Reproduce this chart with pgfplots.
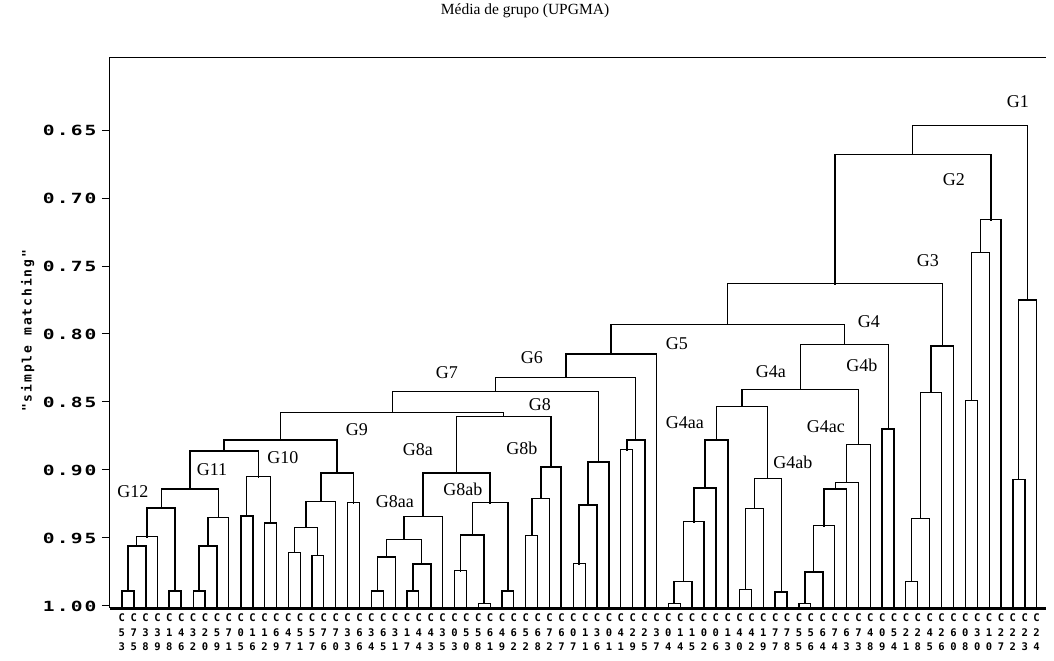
\documentclass[border=0pt]{standalone}
\usepackage{fontspec}
\setmainfont{Liberation Serif}
\newfontfamily\monob[BoldFont={* Bold}]{DejaVu Sans Mono}
\newfontfamily\monolab[BoldFont={* Bold},LetterSpace=15]{DejaVu Sans Mono}
\newfontfamily\monobsp[BoldFont={* Bold},LetterSpace=15,FakeStretch=1.4]{DejaVu Sans Mono}
\usepackage{pgfplots}
\pgfplotsset{compat=1.18}
\newcommand\M[5]{\addplot[dend] coordinates {(#1,#2) (#1,#5) (#3,#5) (#3,#4)};}
\newcommand\MT[5]{\addplot[dend,line width=1.9pt] coordinates {(#1,#2) (#1,#5) (#3,#5) (#3,#4)};}
\newcommand\G[3]{\node[font=\fontsize{18}{18}\selectfont,inner sep=0pt] at (axis cs:#1,#2) {#3};}
\begin{document}
\begin{tikzpicture}
\begin{axis}[name=ax,
  scale only axis, width=936pt, height=551pt,
  xmin=0, xmax=78.79, ymin=0.5963, ymax=1.0015, y dir=reverse,
  clip=false, axis line style={draw=none},
  dend/.style={black, line width=1.1pt, line cap=rect, line join=miter, mark=none},
  xtick={1,...,78}, xtick style={draw=none},
  xticklabels={{C\\5\\3},{C\\7\\5},{C\\3\\8},{C\\3\\9},{C\\1\\8},{C\\4\\6},{C\\3\\2},{C\\2\\0},{C\\5\\9},{C\\7\\1},
    {C\\0\\5},{C\\1\\6},{C\\1\\2},{C\\6\\9},{C\\4\\7},{C\\5\\1},{C\\5\\7},{C\\7\\6},{C\\7\\0},{C\\3\\3},
    {C\\6\\6},{C\\3\\4},{C\\6\\5},{C\\3\\1},{C\\1\\7},{C\\4\\4},{C\\4\\3},{C\\3\\5},{C\\0\\3},{C\\5\\0},
    {C\\5\\8},{C\\6\\1},{C\\4\\9},{C\\6\\2},{C\\5\\2},{C\\6\\8},{C\\7\\2},{C\\6\\7},{C\\0\\7},{C\\1\\1},
    {C\\3\\6},{C\\0\\1},{C\\4\\1},{C\\2\\9},{C\\2\\5},{C\\3\\7},{C\\0\\4},{C\\1\\4},{C\\1\\5},{C\\0\\2},
    {C\\0\\6},{C\\1\\3},{C\\4\\0},{C\\4\\2},{C\\1\\9},{C\\7\\7},{C\\7\\8},{C\\5\\5},{C\\5\\6},{C\\6\\4},
    {C\\7\\4},{C\\6\\3},{C\\7\\3},{C\\4\\8},{C\\0\\9},{C\\5\\4},{C\\2\\1},{C\\2\\8},{C\\4\\5},{C\\2\\6},
    {C\\6\\0},{C\\0\\8},{C\\3\\0},{C\\1\\0},{C\\2\\7},{C\\2\\2},{C\\2\\3},{C\\2\\4}},
  xticklabel style={font=\monob\bfseries\fontsize{10.5}{14.5}\selectfont, align=center, anchor=north, yshift=2pt, inner sep=0pt},
  ytick={0.65,0.70,0.75,0.80,0.85,0.90,0.95,1.00},
  yticklabels={0.65,0.70,0.75,0.80,0.85,0.90,0.95,1.00},
  yticklabel style={font=\monobsp\bfseries\fontsize{14}{14}\selectfont, anchor=east, xshift=-2pt},
  ytick pos=left, tick align=outside, major tick length=8pt,
  ytick style={black, line width=1pt},
  ylabel={"simple matching"},
  ylabel style={font=\monolab\bfseries\fontsize{13}{13}\selectfont, at={(axis description cs:-0.088,0.503)}, anchor=center},
  title={Média de grupo (UPGMA)},
  title style={font=\fontsize{15.5}{15.5}\selectfont, at={(axis description cs:0.4434,1.0726)}, anchor=center},
]
% frame
\draw[black, line width=1pt] (axis description cs:0,0) -- (axis description cs:0,1) -- (axis description cs:1,1);
% dendrogram merges: x_left, h_left, x_right, h_right, h_merge
\MT{1}{1}{2}{1}{0.989}
\MT{1.5}{0.989}{3}{1}{0.956}
\M{2.25}{0.956}{4}{1}{0.949}
\MT{5}{1}{6}{1}{0.989}
\MT{3.125}{0.949}{5.5}{0.989}{0.928}
\M{7}{1}{8}{1}{0.989}
\MT{7.5}{0.989}{9}{1}{0.956}
\M{8.25}{0.956}{10}{1}{0.935}
\M{4.3125}{0.928}{9.125}{0.935}{0.914}
\MT{11}{1}{12}{1}{0.934}
\M{13}{1}{14}{1}{0.939}
\M{11.5}{0.934}{13.5}{0.939}{0.905}
\MT{6.71875}{0.914}{12.5}{0.905}{0.886}
\M{15}{1}{16}{1}{0.961}
\M{17}{1}{18}{1}{0.963}
\M{15.5}{0.961}{17.5}{0.963}{0.942}
\M{16.5}{0.942}{19}{1}{0.923}
\M{20}{1}{21}{1}{0.924}
\MT{17.75}{0.923}{20.5}{0.924}{0.902}
\MT{9.609}{0.886}{19.125}{0.902}{0.878}
\M{22}{1}{23}{1}{0.989}
\M{22.5}{0.989}{24}{1}{0.964}
\M{25}{1}{26}{1}{0.989}
\MT{25.5}{0.989}{27}{1}{0.969}
\M{23.25}{0.964}{26.25}{0.969}{0.951}
\M{24.75}{0.951}{28}{1}{0.934}
\M{29}{1}{30}{1}{0.974}
\M{31}{1}{32}{1}{0.998}
\MT{29.5}{0.974}{31.5}{0.998}{0.948}
\M{33}{1}{34}{1}{0.989}
\M{30.5}{0.948}{33.5}{0.989}{0.924}
\MT{26.375}{0.934}{32}{0.924}{0.902}
\M{35}{1}{36}{1}{0.948}
\MT{35.5}{0.948}{37}{1}{0.921}
\MT{36.25}{0.921}{38}{1}{0.898}
\M{29.1875}{0.902}{37.125}{0.898}{0.861}
\M{14.367}{0.878}{33.156}{0.861}{0.858}
\M{39}{1}{40}{1}{0.969}
\MT{39.5}{0.969}{41}{1}{0.926}
\MT{40.25}{0.926}{42}{1}{0.894}
\M{23.762}{0.858}{41.125}{0.894}{0.842}
\M{43}{1}{44}{1}{0.885}
\MT{43.5}{0.885}{45}{1}{0.878}
\M{32.443}{0.842}{44.25}{0.878}{0.832}
\MT{38.347}{0.832}{46}{1}{0.815}
\M{47}{1}{48}{1}{0.998}
\MT{47.5}{0.998}{49}{1}{0.982}
\M{48.25}{0.982}{50}{1}{0.938}
\MT{49.125}{0.938}{51}{1}{0.913}
\MT{50.0625}{0.913}{52}{1}{0.878}
\M{53}{1}{54}{1}{0.988}
\M{53.5}{0.988}{55}{1}{0.928}
\MT{56}{1}{57}{1}{0.990}
\M{54.25}{0.928}{56.5}{0.990}{0.906}
\M{51.031}{0.878}{55.375}{0.906}{0.853}
\M{58}{1}{59}{1}{0.998}
\MT{58.5}{0.998}{60}{1}{0.975}
\M{59.25}{0.975}{61}{1}{0.941}
\MT{60.125}{0.941}{62}{1}{0.914}
\M{61.0625}{0.914}{63}{1}{0.909}
\M{62.031}{0.909}{64}{1}{0.881}
\M{53.203}{0.853}{63.016}{0.881}{0.841}
\MT{65}{1}{66}{1}{0.870}
\M{58.109}{0.841}{65.5}{0.870}{0.808}
\M{42.173}{0.815}{61.805}{0.808}{0.793}
\M{67}{1}{68}{1}{0.982}
\M{67.5}{0.982}{69}{1}{0.936}
\M{68.25}{0.936}{70}{1}{0.843}
\MT{69.125}{0.843}{71}{1}{0.809}
\M{51.989}{0.793}{70.0625}{0.809}{0.763}
\M{72}{1}{73}{1}{0.849}
\M{72.5}{0.849}{74}{1}{0.740}
\M{73.25}{0.740}{75}{1}{0.716}
\MT{61.026}{0.763}{74.125}{0.716}{0.668}
\MT{76}{1}{77}{1}{0.907}
\M{76.5}{0.907}{78}{1}{0.775}
\M{67.575}{0.668}{77.25}{0.775}{0.647}
% group labels
\G{76.42}{0.6294}{G1}
\G{71.03}{0.6868}{G2}
\G{68.85}{0.7463}{G3}
\G{63.88}{0.7912}{G4}
\G{63.29}{0.8228}{G4b}
\G{47.72}{0.8074}{G5}
\G{55.63}{0.8279}{G4a}
\G{60.26}{0.8684}{G4ac}
\G{57.48}{0.8941}{G4ab}
\G{48.39}{0.8654}{G4aa}
\G{35.51}{0.8176}{G6}
\G{28.36}{0.8287}{G7}
\G{36.19}{0.8522}{G8}
\G{34.67}{0.8838}{G8b}
\G{25.92}{0.8853}{G8a}
\G{20.78}{0.8706}{G9}
\G{29.70}{0.9140}{G8ab}
\G{23.98}{0.9235}{G8aa}
\G{14.55}{0.8912}{G10}
\G{8.58}{0.9000}{G11}
\G{1.93}{0.9162}{G12}
% thick base line
\draw[black, line width=3pt] (axis description cs:0,0) -- (axis description cs:1,0);
\end{axis}
\pgfresetboundingbox
\path[use as bounding box] ([shift={(-110pt,-53pt)}]ax.south west) rectangle ([shift={(8pt,57pt)}]ax.north east);
\end{tikzpicture}
\end{document}
